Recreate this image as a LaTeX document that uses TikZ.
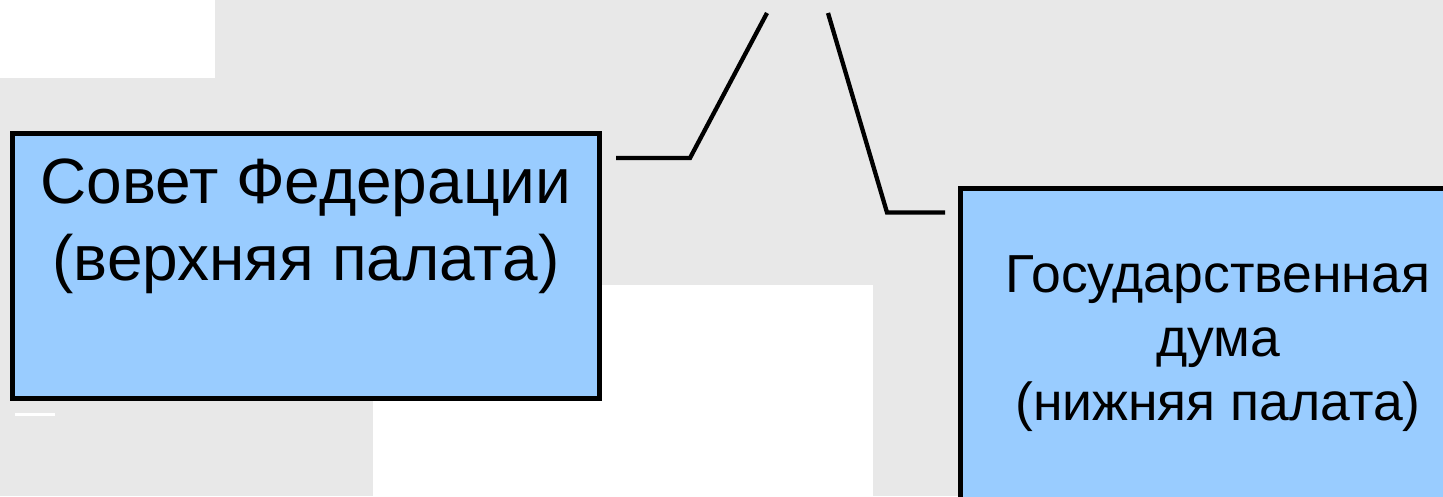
\documentclass[tikz,border=0pt]{standalone}
\usepackage{fontspec}
\setmainfont{Liberation Sans}
\definecolor{bggrey}{RGB}{232,232,232}
\definecolor{boxblue}{RGB}{153,204,255}
\tikzset{
  chamber/.style={draw=black, line width=5pt, fill=boxblue, inner sep=0pt, outer sep=0pt, anchor=north west},
  bigtxt/.style={align=center, inner sep=0pt, font=\fontsize{64}{77}\selectfont},
  smalltxt/.style={align=center, inner sep=0pt, font=\fontsize{53.5}{64}\selectfont},
  link/.style={line width=4.3pt, line join=miter},
  patch/.style={fill=white, draw=none}
}
\begin{document}
\begin{tikzpicture}[x=1pt,y=-1pt]
\useasboundingbox (0,0) rectangle (1443,496);
\clip (0,0) rectangle (1443,496);
\fill[bggrey] (0,0) rectangle (1443,496);
\fill[patch] (0,0) rectangle (215,78);
\fill[patch] (373,285) rectangle (873,496);
\fill[patch] (15,413) rectangle (55,415.5);
% boxes
\node[chamber, minimum width=587pt, minimum height=265pt] (sf) at (12.5,133.5) {};
\node[chamber, minimum width=515pt, minimum height=340pt] (gd) at (960.5,188.5) {};
% texts
\node[bigtxt, anchor=north] (sftxt) at (306,159) {Совет Федерации\\(верхняя палата)};
\node[smalltxt, anchor=north] (gdtxt) at (1218,255) {Государственная\\дума\\(нижняя палата)};
% connectors
\coordinate (l1) at (616,158);
\coordinate (l2) at (690,158);
\coordinate (l3) at (767,13);
\coordinate (r1) at (828,13);
\coordinate (r2) at (887,212.5);
\coordinate (r3) at (945,212.5);
\draw[link] (l1) -- (l2) -- (l3);
\draw[link] (r1) -- (r2) -- (r3);
\end{tikzpicture}
\end{document}
